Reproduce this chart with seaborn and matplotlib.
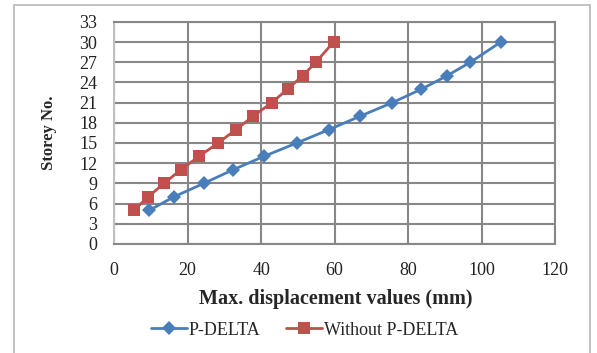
import numpy as np
import pandas as pd
import matplotlib
matplotlib.use("Agg")
import matplotlib.pyplot as plt
import seaborn as sns
from matplotlib.lines import Line2D
from matplotlib.patches import Rectangle

storeys = [5, 7, 9, 11, 13, 15, 17, 19, 21, 23, 25, 27, 30]
disp_pdelta = [9.6, 16.3, 24.4, 32.3, 40.7, 49.7, 58.5, 67.0, 75.7, 83.6, 90.6, 96.9, 105.2]
disp_without = [5.4, 9.3, 13.6, 18.1, 23.1, 28.3, 33.2, 37.9, 42.9, 47.2, 51.3, 54.9, 59.7]
series_names = ["P-DELTA", "Without P-DELTA"]
x_ticks = [0, 20, 40, 60, 80, 100, 120]
y_ticks = [0, 3, 6, 9, 12, 15, 18, 21, 24, 27, 30, 33]

colors = {"P-DELTA": "#4A7EBB", "Without P-DELTA": "#C0504D"}
markers = {"P-DELTA": "D", "Without P-DELTA": "s"}

df = pd.concat([
    pd.DataFrame({"disp": disp_pdelta, "storey": storeys, "series": series_names[0]}),
    pd.DataFrame({"disp": disp_without, "storey": storeys, "series": series_names[1]}),
])

sns.set_style("white")
plt.rcParams["font.family"] = ["Liberation Serif", "DejaVu Serif"]

fig = plt.figure(figsize=(5.97, 3.53), dpi=100)
ax = fig.add_axes([0.191, 0.309, 0.739, 0.629])

sns.lineplot(data=df, x="disp", y="storey", hue="series", style="series",
             markers=markers, dashes=False, palette=colors, sort=False,
             linewidth=2.0, markeredgewidth=0, ax=ax, legend=False)
for line in ax.lines:
    if line.get_marker() == "D":
        line.set_markersize(7)
    else:
        line.set_markersize(8.5)

ax.set_xlim(0, 120)
ax.set_ylim(0, 33)
ax.set_xticks(x_ticks)
ax.set_yticks(y_ticks)
ax.grid(True, color="#878787", linewidth=1.5)
ax.set_axisbelow(True)
for side, sp in ax.spines.items():
    sp.set_color("#878787")
    sp.set_linewidth(1.5)
ax.spines["left"].set_color("#c0c0c0")
ax.tick_params(axis="both", direction="out", length=4, width=1.2, color="#878787",
               labelsize=13, labelcolor="#222222")
ax.tick_params(axis="y", pad=8)
ax.tick_params(axis="x", pad=9)

ax.set_xlabel("Max. displacement values (mm)", fontsize=14.5, fontweight="bold")
ax.set_ylabel("Storey No.", fontsize=12, fontweight="bold")
ax.xaxis.set_label_coords(0.503, -0.203)
ax.yaxis.set_label_coords(-0.13, 0.5)

handles = [Line2D([0], [0], color=colors[s], marker=markers[s], lw=2.0,
                  markersize=(7 if s == "P-DELTA" else 8.5), markeredgewidth=0)
           for s in series_names]
fig.legend(handles, series_names, loc="center", bbox_to_anchor=(0.51, 0.065),
           ncol=2, frameon=False, fontsize=13, handlelength=2.0,
           handletextpad=0.1, columnspacing=1.4)

fig.patches.append(Rectangle((14 / 597, -0.02), (590 - 14) / 597, 1 - 5 / 353 + 0.02,
                             transform=fig.transFigure, fill=False,
                             edgecolor="#b8b8b8", linewidth=1.2))

fig.savefig("out.png", dpi=100)
